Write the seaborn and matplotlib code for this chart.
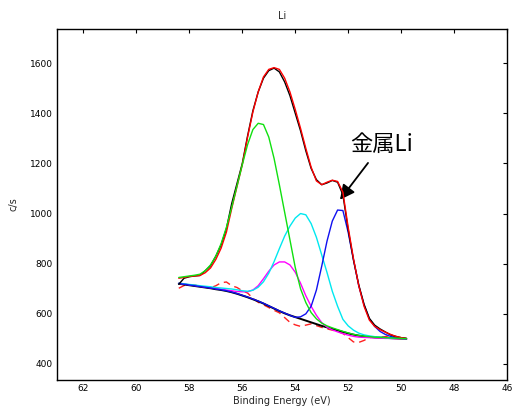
import matplotlib
matplotlib.use("Agg")
import matplotlib.pyplot as plt
import seaborn as sns
import pandas as pd

# Binding energy grid (eV)
energy = [58.4, 58.2, 58.0, 57.8, 57.6, 57.4, 57.2, 57.0, 56.8, 56.6, 56.4, 56.2,
          56.0, 55.8, 55.6, 55.4, 55.2, 55.0, 54.8, 54.6, 54.4, 54.2, 54.0, 53.8,
          53.6, 53.4, 53.2, 53.0, 52.8, 52.6, 52.4, 52.2, 52.0, 51.8, 51.6, 51.4,
          51.2, 51.0, 50.8, 50.6, 50.4, 50.2, 50.0, 49.8]

# measured spectrum (red)
measured = [742, 745, 749, 751, 753, 764, 783, 817, 862, 926, 1020, 1108,
            1195, 1305, 1405, 1485, 1545, 1575, 1582, 1575, 1540, 1485, 1415, 1340,
            1260, 1185, 1130, 1115, 1125, 1133, 1128, 1085, 945, 820, 712, 630,
            575, 550, 537, 527, 518, 510, 505, 502]

# fitted envelope (black)
envelope = [718, 742, 748, 751, 753, 772, 792, 830, 875, 940, 1040, 1120,
            1200, 1310, 1410, 1485, 1540, 1570, 1580, 1565, 1525, 1470, 1400, 1330,
            1250, 1180, 1135, 1115, 1122, 1132, 1125, 1075, 935, 815, 715, 638,
            582, 555, 540, 528, 516, 510, 505, 502]

# background (black)
background = [720, 717, 714, 711, 708, 705, 702, 698, 695, 691, 686, 680,
              673, 666, 658, 650, 641, 631, 621, 611, 602, 594, 587, 580,
              573, 566, 559, 552, 546, 540, 534, 528, 522, 517, 513, 510,
              508, 506, 505, 504, 503, 502, 501, 500]

# background + residual (red dashed)
residual = [702, 713, 716, 715, 710, 706, 704, 712, 724, 727, 712, 705,
            692, 683, 662, 646, 636, 625, 614, 604, 585, 566, 556, 550,
            555, 560, 553, 546, 540, 535, 530, 522, 505, 488, 486, 494,
            505, 508, 507, 509, 514, 507, 503, 500]

# components
comp_green = [745, 748, 751, 754, 758, 772, 795, 830, 880, 945, 1025, 1110,
              1195, 1275, 1335, 1360, 1355, 1305, 1220, 1115, 1005, 895, 785, 700,
              645, 605, 580, 563, 552, 544, 537, 530, 524, 518, 514, 511,
              509, 507, 506, 505, 504, 503, 502, 501]
comp_cyan = [722, 720, 717, 715, 712, 710, 708, 705, 703, 701, 699, 696,
             692, 690, 694, 706, 728, 762, 808, 860, 910, 950, 982, 1000,
             995, 960, 905, 835, 765, 690, 630, 578, 552, 535, 523, 516,
             512, 509, 507, 505, 504, 503, 502, 501]
comp_magenta = [722, 719, 716, 713, 710, 707, 704, 701, 698, 695, 692, 689,
                688, 688, 695, 712, 740, 770, 795, 807, 807, 795, 766, 722,
                672, 630, 594, 565, 547, 536, 528, 521, 515, 510, 507, 506,
                505, 504, 503, 502, 502, 501, 501, 500]
comp_blue = [721, 718, 715, 712, 709, 706, 703, 699, 696, 692, 687, 681,
             674, 667, 659, 651, 642, 632, 622, 612, 603, 594, 586, 588,
             600, 630, 695, 790, 890, 970, 1014, 1012, 925, 815, 712, 635,
             580, 550, 530, 518, 510, 505, 503, 501]

x_ticks = [62, 60, 58, 56, 54, 52, 50, 48, 46]
y_ticks = [400, 600, 800, 1000, 1200, 1400, 1600]

sns.set_style("white")
plt.rcParams["font.family"] = ["DejaVu Sans", "Noto Sans CJK JP"]

fig = plt.figure(figsize=(5.14, 4.07), dpi=100)
ax = fig.add_axes([0.1109, 0.0663, 0.8755, 0.8624])

df = pd.DataFrame({"energy": energy, "measured": measured, "envelope": envelope,
                   "background": background, "residual": residual,
                   "green": comp_green, "cyan": comp_cyan,
                   "magenta": comp_magenta, "blue": comp_blue})

lw = 1.0
sns.lineplot(data=df, x="energy", y="residual", ax=ax, color="#ff2020", lw=lw,
             sort=False, zorder=1).lines[-1].set_dashes([5, 3.5])
sns.lineplot(data=df, x="energy", y="background", ax=ax, color="black", lw=1.4,
             sort=False, zorder=2)
sns.lineplot(data=df, x="energy", y="magenta", ax=ax, color="#ff00ff", lw=lw,
             sort=False, zorder=3)
sns.lineplot(data=df, x="energy", y="cyan", ax=ax, color="#00e8f0", lw=lw,
             sort=False, zorder=3)
sns.lineplot(data=df, x="energy", y="blue", ax=ax, color="#1010f0", lw=lw,
             sort=False, zorder=4)
sns.lineplot(data=df, x="energy", y="envelope", ax=ax, color="black", lw=lw,
             sort=False, zorder=5)
sns.lineplot(data=df, x="energy", y="measured", ax=ax, color="#ff0000", lw=lw,
             sort=False, zorder=6)
sns.lineplot(data=df, x="energy", y="green", ax=ax, color="#10e010", lw=lw,
             sort=False, zorder=7)

ax.set_xlim(63, 46)
ax.set_ylim(336, 1736)
ax.set_xticks(x_ticks)
ax.set_xticklabels([str(t) for t in x_ticks])
ax.set_yticks(y_ticks)
ax.set_yticklabels([str(t) for t in y_ticks])
ax.tick_params(direction="in", length=3, width=0.8, labelsize=6.5, pad=3,
               top=True, right=True, colors="black")
for s in ax.spines.values():
    s.set_visible(True)
    s.set_color("black")
    s.set_linewidth(1.0)

ax.set_xlabel("Binding Energy (eV)", fontsize=7, labelpad=2)
ax.set_ylabel("c/s", fontsize=7, labelpad=8)
ax.set_title("Li", fontsize=7, pad=7)

ax.annotate("金属Li", xy=(52.31, 1055), xytext=(50.73, 1274),
            ha="center", va="center", fontsize=16, fontweight="normal",
            color="black", family=["Noto Sans CJK JP", "DejaVu Sans"],
            arrowprops=dict(arrowstyle="-|>", color="black", lw=1.3,
                            mutation_scale=22, shrinkA=3, shrinkB=0))

fig.savefig("out.png", dpi=100)
